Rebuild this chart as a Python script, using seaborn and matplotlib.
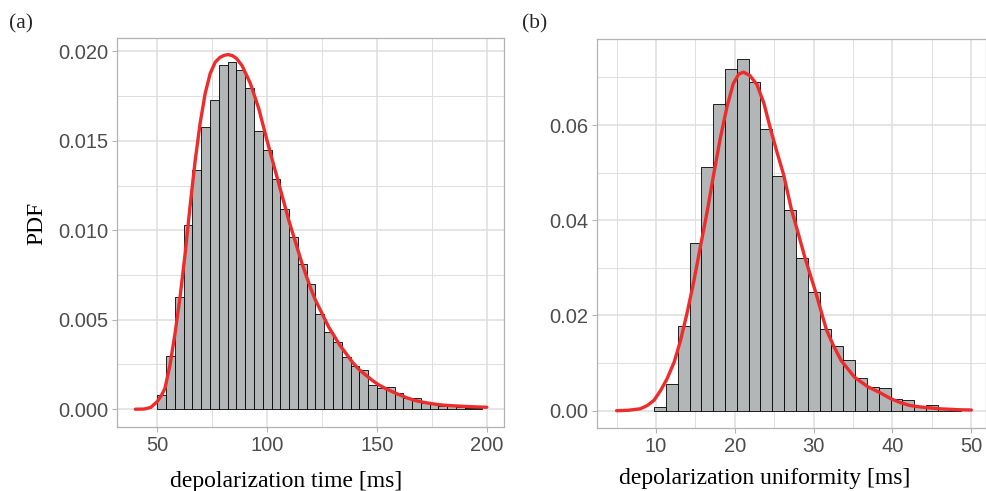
import numpy as np
import pandas as pd
import matplotlib
matplotlib.use("Agg")
import matplotlib.pyplot as plt
import seaborn as sns
from matplotlib.ticker import MultipleLocator, FormatStrFormatter

# ---------------- data ----------------
# Panel (a): depolarization time histogram, bin width 4 ms
a_bin_left = [50, 54, 58, 62, 66, 70, 74, 78, 82, 86, 90, 94, 98, 102, 106, 110,
              114, 118, 122, 126, 130, 134, 138, 142, 146, 150, 154, 158, 162,
              166, 170, 174, 178, 182, 186, 190, 194]
a_density = [0.00077, 0.00298, 0.00628, 0.01028, 0.01337, 0.01577, 0.01728,
             0.01924, 0.01939, 0.01896, 0.01793, 0.01555, 0.01449, 0.01287,
             0.01119, 0.00963, 0.00812, 0.00702, 0.00531, 0.00430, 0.00374,
             0.00292, 0.00240, 0.00218, 0.00134, 0.00121, 0.00125, 0.00093,
             0.00065, 0.00060, 0.00037, 0.00028, 0.00020, 0.00016, 0.00012,
             0.00009, 0.00007]
a_binwidth = 4

a_fit_x = [40, 44, 47, 50, 52, 53.5, 55.8, 58.1, 60.4, 62.7, 64.9, 67.2, 69.5,
           71.8, 74.1, 76.4, 78.5, 80.5, 82.3, 84.2, 86.1, 88.6, 92.4, 96.2, 100,
           102, 104, 106, 108, 110, 112, 114, 116, 118, 120, 122, 124, 126,
           128, 130, 133, 136, 139, 142, 145, 148, 151, 154, 157, 160, 164,
           168, 172, 176, 180, 185, 190, 195, 200]
a_fit_y = [0.0, 0.00001, 0.0001, 0.00043, 0.0008, 0.00117, 0.00248, 0.00425,
           0.0063, 0.00872, 0.01132, 0.01384, 0.01598, 0.01765, 0.01877,
           0.01940, 0.01966, 0.01978, 0.01982, 0.01976, 0.01960, 0.0192,
           0.0182, 0.0168, 0.0150, 0.0141, 0.0132, 0.0123, 0.0114, 0.0105,
           0.0097, 0.0089, 0.0081, 0.0074, 0.0067, 0.0061, 0.0056, 0.0051,
           0.0046, 0.0042, 0.0036, 0.0031, 0.0026, 0.0022, 0.0019, 0.0016,
           0.00135, 0.00115, 0.00098, 0.00082, 0.00062, 0.00047, 0.00037,
           0.00029, 0.00023, 0.00019, 0.00016, 0.00013, 0.00011]

# Panel (b): depolarization uniformity histogram, bin width 1.5 ms
b_bin_left = [9.75, 11.25, 12.75, 14.25, 15.75, 17.25, 18.75, 20.25, 21.75,
              23.25, 24.75, 26.25, 27.75, 29.25, 30.75, 32.25, 33.75, 35.25,
              36.75, 38.25, 39.75, 41.25, 42.75, 44.25, 45.75, 47.25]
b_density = [0.0008, 0.0057, 0.0178, 0.0352, 0.0512, 0.0644, 0.0718, 0.0739,
             0.0690, 0.0591, 0.0493, 0.0422, 0.0321, 0.0250, 0.0171, 0.0136,
             0.0107, 0.0069, 0.0050, 0.0047, 0.0025, 0.0022, 0.0009, 0.0011,
             0.0005, 0.0002]
b_binwidth = 1.5

b_fit_x = [5, 6.5, 8.0, 8.9, 9.75, 10.6, 11.4, 12.3, 13.1, 13.95, 14.8, 15.6,
           16.5, 17.3, 18.15, 19.0, 19.8, 20.5, 21.1, 21.9, 22.8, 23.7, 24.5,
           25.4, 26.2, 27.2, 28.0, 28.9, 30.2, 31.6, 32.5, 33.5, 35.2, 36.9,
           38.4, 39.7, 41.0, 42.2, 43.5, 44.7, 46.0, 47.3, 48.5, 50]
b_fit_y = [0.0, 0.0001, 0.0004, 0.0011, 0.0022, 0.0043, 0.0067, 0.0102,
           0.0147, 0.0206, 0.0272, 0.0342, 0.0419, 0.0495, 0.0572, 0.0638,
           0.0687, 0.0707, 0.0711, 0.0704, 0.0685, 0.0645, 0.0593, 0.0540,
           0.0495, 0.0421, 0.0375, 0.0321, 0.0252, 0.0171, 0.0137, 0.0105,
           0.0070, 0.0050, 0.0038, 0.0026, 0.0017, 0.0011, 0.0008, 0.0006,
           0.0004, 0.0003, 0.0002, 0.00015]

# ---------------- style ----------------
sns.set_theme(style="white")
plt.rcParams['font.family'] = ['Liberation Sans', 'DejaVu Sans']

BAR_FILL = "#B2B6B6"
RED = "#EE2C2C"
GRID = "#DEDEDE"
BORDER = "#B3B3B3"
TICKTXT = "#4D4D4D"

fig = plt.figure(figsize=(9.86, 4.91), dpi=100)
W, H = 986, 491


def axes_px(l, t, r, b):
    return fig.add_axes([l / W, 1 - b / H, (r - l) / W, (b - t) / H])


ax_a = axes_px(117.3, 38.3, 503.5, 427.3)
ax_b = axes_px(597.3, 39.3, 985.5, 428.0)


def draw_panel(ax, left, dens, bw, fx, fy):
    left = [float(v) for v in left]
    centers = [v + bw / 2 for v in left]
    df = pd.DataFrame({"x": centers, "w": dens})
    sns.histplot(data=df, x="x", weights="w", binwidth=bw,
                 binrange=(left[0], left[-1] + bw), stat="count",
                 color=BAR_FILL, alpha=1, edgecolor="black", linewidth=0.6,
                 ax=ax, zorder=2)
    dfl = pd.DataFrame({"x": fx, "y": fy})
    sns.lineplot(data=dfl, x="x", y="y", color=RED, linewidth=2.4, ax=ax,
                 sort=False, zorder=3, estimator=None)


draw_panel(ax_a, a_bin_left, a_density, a_binwidth, a_fit_x, a_fit_y)
draw_panel(ax_b, b_bin_left, b_density, b_binwidth, b_fit_x, b_fit_y)

ax_a.set_xlim(31.8, 207.6)
ax_a.set_ylim(-0.00101, 0.02073)
ax_b.set_xlim(2.55, 51.8)
ax_b.set_ylim(-0.00363, 0.0780)

ax_a.xaxis.set_major_locator(MultipleLocator(50))
ax_a.xaxis.set_minor_locator(MultipleLocator(25))
ax_a.yaxis.set_major_locator(MultipleLocator(0.005))
ax_a.yaxis.set_minor_locator(MultipleLocator(0.0025))
ax_a.yaxis.set_major_formatter(FormatStrFormatter('%.3f'))

ax_b.xaxis.set_major_locator(MultipleLocator(10))
ax_b.xaxis.set_minor_locator(MultipleLocator(5))
ax_b.yaxis.set_major_locator(MultipleLocator(0.02))
ax_b.yaxis.set_minor_locator(MultipleLocator(0.01))
ax_b.yaxis.set_major_formatter(FormatStrFormatter('%.2f'))

for ax in (ax_a, ax_b):
    ax.set_axisbelow(True)
    ax.grid(which="major", color=GRID, linewidth=1.1, zorder=0)
    ax.grid(which="minor", color=GRID, linewidth=0.7, zorder=0)
    for s in ax.spines.values():
        s.set_color(BORDER)
        s.set_linewidth(0.9)
    ax.tick_params(which="major", direction="out", length=3.5, width=0.8,
                   color=BORDER, labelcolor=TICKTXT, labelsize=14.5, pad=3,
                   bottom=True, left=True)
    ax.tick_params(which="minor", length=0)
    ax.set_facecolor("white")

serif = ['Liberation Serif', 'DejaVu Serif']
ax_a.set_xlabel("depolarization time [ms]", fontsize=17, family=serif, color="black")
ax_b.set_xlabel("depolarization uniformity [ms]", fontsize=17, family=serif, color="black")
ax_a.set_ylabel("PDF", fontsize=17, family=serif, color="black")
ax_b.set_ylabel("")
ax_a.xaxis.set_label_coords(0.438, -0.112)
ax_b.xaxis.set_label_coords(0.43, -0.104)
ax_a.yaxis.set_label_coords(-0.182, 0.525)

fig.text(21 / W, 1 - 24 / H, "(a)", fontsize=15.5, family=serif, ha="center", va="center")
fig.text(535 / W, 1 - 24 / H, "(b)", fontsize=15.5, family=serif, ha="center", va="center")

fig.savefig("out.png", dpi=100, facecolor="white")
